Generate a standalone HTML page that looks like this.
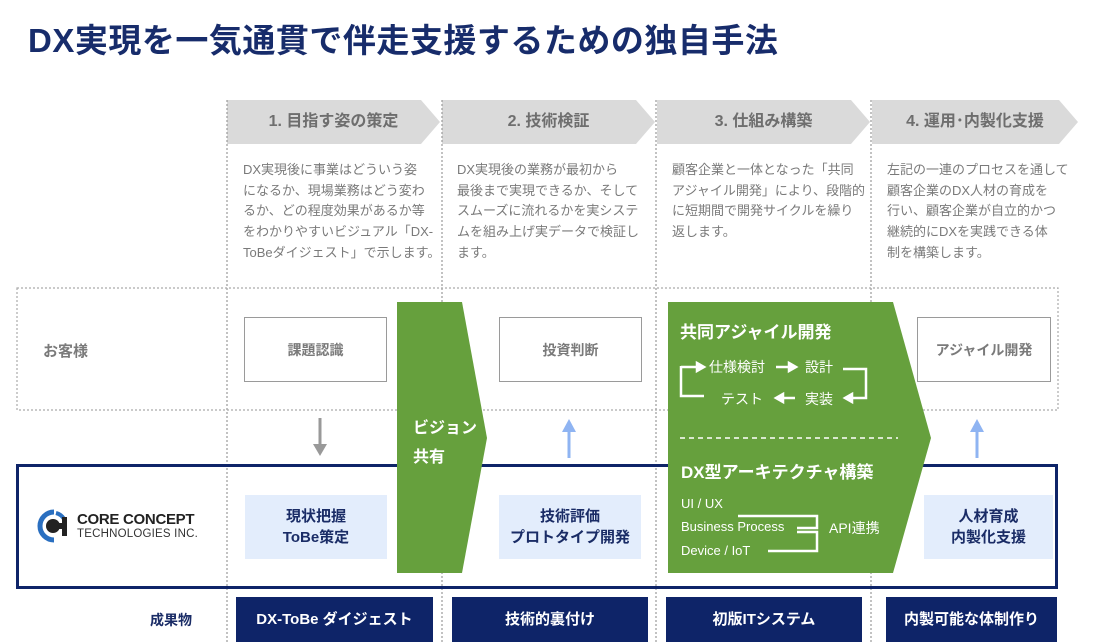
<!DOCTYPE html>
<html><head><meta charset="utf-8"><style>
*{margin:0;padding:0;box-sizing:border-box}
body{width:1093px;height:642px;background:#fff;position:relative;overflow:hidden;font-family:"Liberation Sans","Noto Sans CJK JP",sans-serif}
.a{position:absolute}
.desc{position:absolute;top:160px;font-size:13px;line-height:20.7px;color:#7a7a7a;width:200px}
.hd{position:absolute;top:100px;height:44px;line-height:44px;font-size:16px;font-weight:bold;color:#6e6e6e;text-align:center}
.wb{position:absolute;border:1.5px solid #9a9a9a;background:#fff;text-align:center;font-size:14px;font-weight:bold;color:#7a7a7a;display:flex;align-items:center;justify-content:center}
.lb{position:absolute;background:#e3edfc;text-align:center;font-size:15px;font-weight:bold;color:#1a2c66;display:flex;align-items:center;justify-content:center;line-height:21px}
.nb{position:absolute;top:597px;height:45px;background:#0e2468;color:#fff;font-weight:bold;font-size:15px;text-align:center;line-height:45px}
.w{color:#fff;position:absolute;white-space:nowrap}
</style></head><body>
<div class="a" style="left:28px;top:14px;font-size:33px;font-weight:bold;color:#172c6b;letter-spacing:0.5px;white-space:nowrap">DX実現を一気通貫で伴走支援するための独自手法</div>

<svg class="a" style="left:0;top:0" width="1093" height="642">
<g fill="#dadada">
<polygon points="227,100 421,100 440,122 421,144 227,144"/>
<polygon points="442,100 636,100 655,122 636,144 442,144"/>
<polygon points="657,100 851,100 870,122 851,144 657,144"/>
<polygon points="872,100 1059,100 1078,122 1059,144 872,144"/>
</g>
<g stroke="#999" stroke-width="1.2" stroke-dasharray="2,2" fill="none">
<line x1="227" y1="100" x2="227" y2="642"/>
<line x1="442" y1="100" x2="442" y2="642"/>
<line x1="656" y1="100" x2="656" y2="642"/>
<line x1="871" y1="100" x2="871" y2="642"/>
<rect x="17" y="288" width="1041" height="122" stroke="#aaa"/>
</g>
<rect x="17.5" y="465.5" width="1039" height="122" fill="none" stroke="#0e2468" stroke-width="3"/>
<line x1="320" y1="418" x2="320" y2="446" stroke="#999" stroke-width="3"/>
<polygon points="313,444 327,444 320,456" fill="#999"/>
<line x1="569" y1="430" x2="569" y2="458" stroke="#8fb4f2" stroke-width="3"/>
<polygon points="562,432 576,432 569,419" fill="#8fb4f2"/>
<line x1="977" y1="430" x2="977" y2="458" stroke="#8fb4f2" stroke-width="3"/>
<polygon points="970,432 984,432 977,419" fill="#8fb4f2"/>
<polygon points="397,302 462,302 487,438 462,573 397,573" fill="#66a03d"/>
<polygon points="668,302 893,302 931,438 893,573 668,573" fill="#66a03d"/>
<g stroke="#fff" stroke-width="2.5" fill="none">
<polyline points="681,366 681,396 704,396"/>
<line x1="681" y1="367" x2="698" y2="367"/>
<polygon points="697,363 704,367 697,371" fill="#fff"/>
<line x1="776" y1="367" x2="790" y2="367"/>
<polygon points="789,363 796,367 789,371" fill="#fff"/>
<line x1="782" y1="398" x2="795" y2="398"/>
<polygon points="783,394 776,398 783,402" fill="#fff"/>
<polyline points="843,369 866,369 866,398 851,398"/>
<polygon points="852,394 845,398 852,402" fill="#fff"/>
<line x1="680" y1="438" x2="898" y2="438" stroke-width="1.5" stroke-dasharray="5,4"/>
<polyline points="738,516 817,516 817,528 797,528"/>
<polyline points="797,532 817,532 817,551 768,551"/>
</g>
<path d="M54,512 A14,14 0 1 0 54,540" fill="none" stroke="#2a6fc0" stroke-width="5"/>
<path d="M56,513 A13,13 0 0 1 64,519" fill="none" stroke="#2a6fc0" stroke-width="4"/>
<circle cx="53" cy="526" r="7" fill="#222"/>
<rect x="53" y="523" width="12" height="6" fill="#222"/>
<rect x="62" y="517" width="5" height="19" fill="#222"/>
</svg>

<div class="hd" style="left:227px;width:213px">1. 目指す姿の策定</div>
<div class="hd" style="left:442px;width:213px">2. 技術検証</div>
<div class="hd" style="left:657px;width:213px">3. 仕組み構築</div>
<div class="hd" style="left:872px;width:206px">4. 運用･内製化支援</div>

<div class="desc" style="left:243px">DX実現後に事業はどういう姿<br>になるか、現場業務はどう変わ<br>るか、どの程度効果があるか等<br>をわかりやすいビジュアル「DX-<br>ToBeダイジェスト」で示します。</div>
<div class="desc" style="left:457px">DX実現後の業務が最初から<br>最後まで実現できるか、そして<br>スムーズに流れるかを実システ<br>ムを組み上げ実データで検証し<br>ます。</div>
<div class="desc" style="left:672px">顧客企業と一体となった「共同<br>アジャイル開発」により、段階的<br>に短期間で開発サイクルを繰り<br>返します。</div>
<div class="desc" style="left:887px">左記の一連のプロセスを通して<br>顧客企業のDX人材の育成を<br>行い、顧客企業が自立的かつ<br>継続的にDXを実践できる体<br>制を構築します。</div>

<div class="a" style="left:43px;top:340px;font-size:15px;font-weight:bold;color:#7a7a7a">お客様</div>
<div class="wb" style="left:244px;top:317px;width:143px;height:65px">課題認識</div>
<div class="wb" style="left:499px;top:317px;width:143px;height:65px">投資判断</div>
<div class="wb" style="left:917px;top:317px;width:134px;height:65px">アジャイル開発</div>

<div class="lb" style="left:245px;top:495px;width:142px;height:64px">現状把握<br>ToBe策定</div>
<div class="lb" style="left:499px;top:495px;width:142px;height:64px">技術評価<br>プロトタイプ開発</div>
<div class="lb" style="left:924px;top:495px;width:129px;height:64px">人材育成<br>内製化支援</div>

<div class="a" style="left:77px;top:511px;font-size:15px;font-weight:bold;color:#222;letter-spacing:-0.3px">CORE CONCEPT</div>
<div class="a" style="left:77px;top:528px;font-size:11.5px;color:#333;letter-spacing:0.2px">TECHNOLOGIES INC.</div>

<div class="w" style="left:413px;top:414px;font-size:16px;font-weight:bold;line-height:29px">ビジョン<br>共有</div>
<div class="w" style="left:680px;top:318px;font-size:17px;font-weight:bold">共同アジャイル開発</div>
<div class="w" style="left:709px;top:357px;font-size:14px">仕様検討</div>
<div class="w" style="left:805px;top:357px;font-size:14px">設計</div>
<div class="w" style="left:721px;top:389px;font-size:14px">テスト</div>
<div class="w" style="left:805px;top:389px;font-size:14px">実装</div>
<div class="w" style="left:681px;top:458px;font-size:17px;font-weight:bold">DX型アーキテクチャ構築</div>
<div class="w" style="left:681px;top:496px;font-size:13px">UI / UX</div>
<div class="w" style="left:681px;top:519px;font-size:13px">Business Process</div>
<div class="w" style="left:681px;top:543px;font-size:13px">Device / IoT</div>
<div class="w" style="left:829px;top:518px;font-size:14px">API連携</div>

<div class="a" style="left:150px;top:610px;font-size:14px;font-weight:bold;color:#1a2c66">成果物</div>
<div class="nb" style="left:236px;width:197px">DX-ToBe ダイジェスト</div>
<div class="nb" style="left:452px;width:196px">技術的裏付け</div>
<div class="nb" style="left:666px;width:196px">初版ITシステム</div>
<div class="nb" style="left:886px;width:171px">内製可能な体制作り</div>
</body></html>
